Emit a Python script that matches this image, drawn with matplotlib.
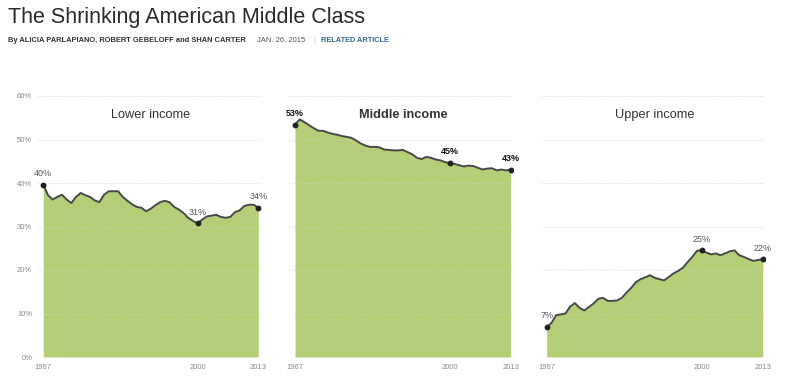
import matplotlib.pyplot as plt

plt.rcParams['font.family'] = ['Liberation Sans', 'DejaVu Sans']

years = list(range(1967, 2014))

lower = [39.6, 37.2, 36.2, 36.8, 37.3, 36.2, 35.4, 36.8, 37.7, 37.2,
         36.8, 36.0, 35.6, 37.3, 38.1, 38.1, 38.1, 36.8, 35.9, 35.1,
         34.5, 34.3, 33.5, 34.1, 34.9, 35.6, 35.9, 35.6, 34.5, 33.9,
         33.1, 32.0, 31.3, 30.7, 31.6, 32.3, 32.5, 32.7, 32.2, 32.0,
         32.2, 33.3, 33.7, 34.7, 35.0, 35.0, 34.3]

middle = [53.4, 54.6, 54.0, 53.3, 52.6, 52.0, 52.0, 51.6, 51.3, 51.1,
          50.8, 50.6, 50.4, 49.8, 49.1, 48.6, 48.3, 48.3, 48.2, 47.7,
          47.6, 47.5, 47.5, 47.6, 47.1, 46.6, 45.8, 45.5, 46.0, 45.8,
          45.4, 45.2, 44.8, 44.6, 44.4, 44.1, 43.8, 44.0, 43.9, 43.5,
          43.1, 43.3, 43.4, 42.9, 43.1, 42.9, 43.1]

upper = [6.9, 7.8, 9.6, 9.8, 10.0, 11.6, 12.4, 11.3, 10.7, 11.5,
         12.3, 13.4, 13.6, 12.9, 12.9, 13.0, 13.6, 14.8, 15.9, 17.2,
         17.9, 18.3, 18.8, 18.2, 17.9, 17.6, 18.4, 19.2, 19.8, 20.5,
         21.8, 23.0, 24.4, 24.5, 24.0, 23.6, 23.8, 23.4, 23.8, 24.3,
         24.5, 23.4, 23.0, 22.5, 22.1, 22.3, 22.5]

titles = ['Lower income', 'Middle income', 'Upper income']
series = [lower, middle, upper]
label_years = [1967, 2000, 2013]
label_text = [['40%', '31%', '34%'], ['53%', '45%', '43%'], ['7%', '25%', '22%']]
y_ticks = [0, 10, 20, 30, 40, 50, 60]

W, H = 798, 391
fig = plt.figure(figsize=(W / 100, H / 100), dpi=100)

fig.text(8 / W, 1 - 18 / H, 'The Shrinking American Middle Class',
         fontsize=15.5, color='#2a2a2a', va='center', ha='left')
fig.text(8 / W, 1 - 40 / H, 'By ALICIA PARLAPIANO, ROBERT GEBELOFF and SHAN CARTER',
         fontsize=5.45, fontweight='bold', color='#333333', va='center', ha='left')
fig.text(257 / W, 1 - 40 / H, 'JAN. 26, 2015', fontsize=5.5, color='#555555',
         va='center', ha='left')
fig.text(313 / W, 1 - 40 / H, '|', fontsize=6, color='#cccccc', va='center', ha='left')
fig.text(321 / W, 1 - 40 / H, 'RELATED ARTICLE', fontsize=5.3, fontweight='bold',
         color='#326891', va='center', ha='left')

x_first = [43.3, 295.0, 546.7]
x_last = [258.3, 510.7, 762.7]
y0, y60 = 357, 96

for i in range(3):
    px_per_year = (x_last[i] - x_first[i]) / (2013 - 1967)
    left = x_first[i] - 1.2 * px_per_year
    right = x_last[i] + 0.5 * px_per_year
    ax = fig.add_axes([left / W, (H - y0) / H, (right - left) / W, (y0 - y60) / H])
    ax.set_xlim(1965.8, 2013.5)
    ax.set_ylim(0, 60)
    ax.fill_between(years, series[i], 0, color='#b4cf77', lw=0, zorder=1)
    ax.plot(years, series[i], color='#484848', lw=1.4, zorder=3)
    for y in y_ticks:
        ax.axhline(y, color='#d0d0d0', lw=0.7, ls=(0, (1, 1.5)), zorder=2, alpha=0.8)
    bold = (i == 1)
    for yr, txt in zip(label_years, label_text[i]):
        v = series[i][years.index(yr)]
        ax.plot(yr, v, 'o', color='#222222', ms=3.2, zorder=4)
        ax.annotate(txt, (yr, v), xytext=(0, 8), textcoords='offset points',
                    ha='center', va='center', fontsize=6.5,
                    fontweight='bold' if bold else 'normal',
                    color='#111111' if bold else '#555555')
    ax.text(1990, 55.6, titles[i], ha='center', va='center', fontsize=9.2,
            fontweight='bold' if bold else 'normal', color='#333333')
    ax.set_xticks(label_years)
    ax.set_xticklabels([str(y) for y in label_years], fontsize=5.5, color='#888888')
    ax.tick_params(axis='x', length=0, pad=5)
    ax.set_yticks(y_ticks)
    if i == 0:
        ax.set_yticklabels([f'{y}%' for y in y_ticks], fontsize=5.5, color='#888888')
        ax.tick_params(axis='y', length=0, pad=4)
    else:
        ax.set_yticklabels([])
        ax.tick_params(axis='y', length=0)
    for s in ax.spines.values():
        s.set_visible(False)
    ax.patch.set_alpha(0)

fig.savefig('out.png', dpi=100)
